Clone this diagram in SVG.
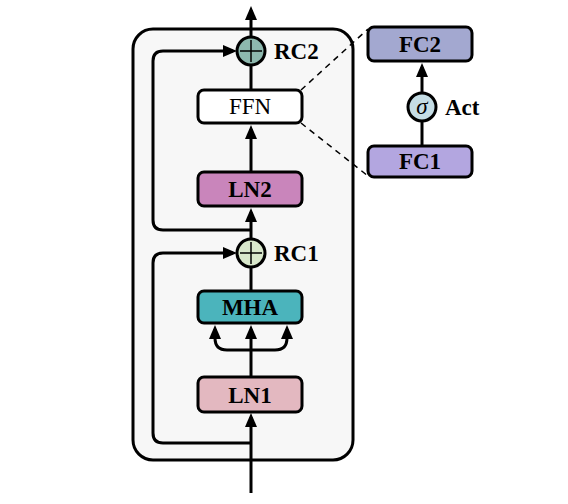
<svg xmlns="http://www.w3.org/2000/svg" width="568" height="504" viewBox="0 0 568 504">
<defs>
<marker id="ah" viewBox="0 0 14 12" refX="10" refY="6" markerWidth="14" markerHeight="12" markerUnits="userSpaceOnUse" orient="auto">
<path d="M0,0 L14,6 L0,12 z" fill="#000"/>
</marker>
<style>
.box{stroke:#000;stroke-width:3}
.ln{fill:none;stroke:#000;stroke-width:3}
.ds{fill:none;stroke:#000;stroke-width:1.5;stroke-dasharray:6,5}
.t{font-family:"Liberation Serif","Times New Roman",serif;font-size:23px;font-weight:bold;text-anchor:middle;fill:#000}
.tr{font-family:"Liberation Serif","Times New Roman",serif;font-size:23px;text-anchor:middle;fill:#000}
.lb{font-family:"Liberation Serif","Times New Roman",serif;font-size:23px;font-weight:bold;fill:#000}
</style>
</defs>
<rect width="568" height="504" fill="#fff"/>
<g id="container">
<rect x="133" y="29" width="220" height="431" rx="20" fill="#f7f7f7" stroke="#000" stroke-width="3"/>
</g>
<g id="connectors">
<line x1="251" y1="493" x2="251" y2="417" class="ln" marker-end="url(#ah)"/>
<path d="M251,443 H163 Q153,443 153,433 V263 Q153,253 163,253 H233" class="ln" marker-end="url(#ah)"/>
<line x1="251" y1="377" x2="251" y2="329" class="ln" marker-end="url(#ah)"/>
<path d="M251,350 H227 Q215,350 215,338 V329" class="ln" marker-end="url(#ah)"/>
<path d="M251,350 H275 Q287,350 287,338 V329" class="ln" marker-end="url(#ah)"/>
<line x1="251" y1="291" x2="251" y2="267" class="ln"/>
<line x1="251" y1="239" x2="251" y2="212" class="ln" marker-end="url(#ah)"/>
<path d="M251,230 H163 Q153,230 153,220 V61 Q153,51 163,51 H233" class="ln" marker-end="url(#ah)"/>
<line x1="251" y1="172" x2="251" y2="129" class="ln" marker-end="url(#ah)"/>
<line x1="251" y1="90" x2="251" y2="64" class="ln"/>
<line x1="251" y1="36" x2="251" y2="10" class="ln" marker-end="url(#ah)"/>
<line x1="422" y1="146" x2="422" y2="121" class="ln"/>
<line x1="422" y1="93" x2="422" y2="67" class="ln" marker-end="url(#ah)"/>
<line x1="301" y1="90" x2="368" y2="29" class="ds"/>
<line x1="301" y1="123" x2="368" y2="176" class="ds"/>
</g>
<g id="LN1">
<rect x="198" y="377" width="104" height="35" rx="6" fill="#e3b8c0" class="box"/>
<text x="250" y="403" class="t">LN1</text>
</g>
<g id="MHA">
<rect x="198" y="291" width="104" height="32" rx="6" fill="#4bb4bc" class="box"/>
<text x="250" y="315" class="t">MHA</text>
</g>
<g id="RC1">
<circle cx="251" cy="253" r="14" fill="#d9e8cc" class="box"/>
<path d="M240,253 H262 M251,242 V264" stroke="#000" stroke-width="1.5"/>
<text x="274" y="261" class="lb">RC1</text>
</g>
<g id="LN2">
<rect x="198" y="172" width="104" height="34" rx="6" fill="#c985bb" class="box"/>
<text x="250" y="197" class="t">LN2</text>
</g>
<g id="FFN">
<rect x="198" y="90" width="104" height="33" rx="6" fill="#fff" class="box"/>
<text x="250" y="114" class="tr">FFN</text>
</g>
<g id="RC2">
<circle cx="251" cy="51" r="14" fill="#8db8ae" class="box"/>
<path d="M240,51 H262 M251,40 V62" stroke="#000" stroke-width="1.5"/>
<text x="274" y="59" class="lb">RC2</text>
</g>
<g id="FC1">
<rect x="368" y="146" width="104" height="31" rx="6" fill="#b3a6e0" class="box"/>
<text x="420" y="169" class="t">FC1</text>
</g>
<g id="Act">
<circle cx="422" cy="107" r="14" fill="#c5dde5" class="box"/>
<text x="422" y="114" class="tr" style="font-style:italic">σ</text>
<text x="445" y="115" class="lb">Act</text>
</g>
<g id="FC2">
<rect x="368" y="27" width="104" height="34" rx="6" fill="#a3a8d0" class="box"/>
<text x="420" y="52" class="t">FC2</text>
</g>
</svg>
